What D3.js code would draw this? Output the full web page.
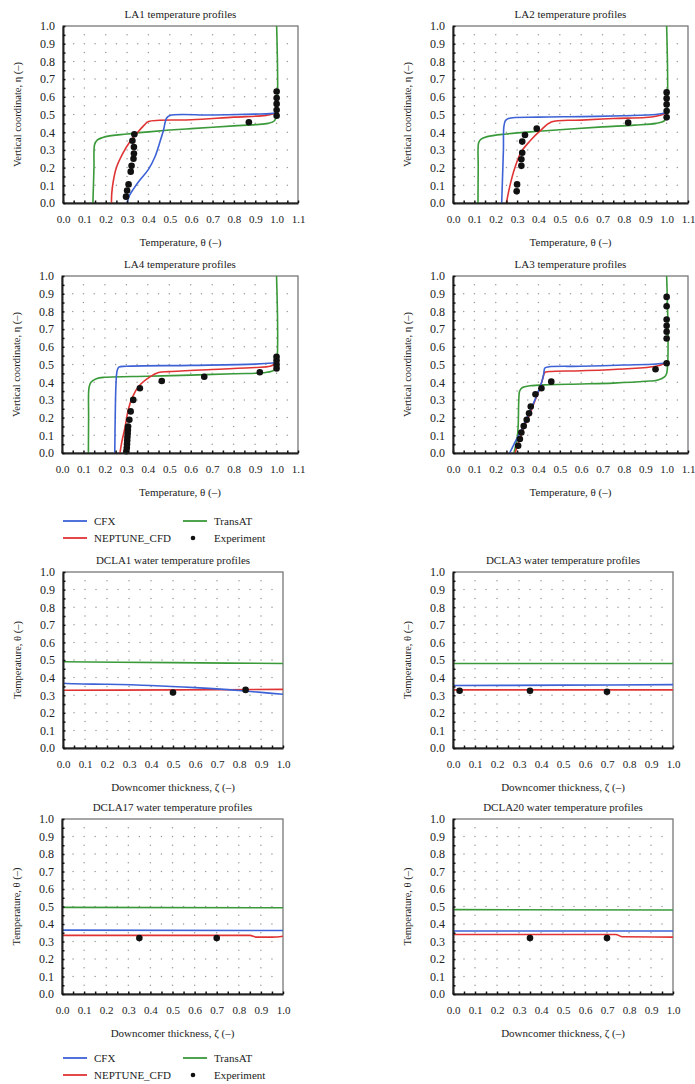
<!DOCTYPE html>
<html><head><meta charset="utf-8">
<script src="https://cdn.jsdelivr.net/npm/d3@7"></script>
<style>
body{margin:0;background:#fff}
svg{display:block}
text{font-family:"Liberation Serif","DejaVu Serif",serif;fill:#222}
</style>
</head><body>
<svg id="c" width="695" height="1084"></svg>
<script>
// ---------- data ----------
const seriesNames = ["CFX", "NEPTUNE_CFD", "TransAT", "Experiment"];
const seriesColors = {CFX:"#3d62d6", NEPTUNE_CFD:"#e03434", TransAT:"#3a9a3a"};
const tempTicks = [0,0.1,0.2,0.3,0.4,0.5,0.6,0.7,0.8,0.9,1.0,1.1];
const unitTicks = [0,0.1,0.2,0.3,0.4,0.5,0.6,0.7,0.8,0.9,1.0];

// LA1  [theta, eta]
const la1_cfx = [[0.30,0],[0.31,0.04],[0.33,0.08],[0.36,0.13],[0.40,0.19],[0.43,0.26],[0.455,0.35],[0.47,0.41],[0.485,0.48],[0.50,0.495],[0.7,0.497],[0.9,0.502],[0.97,0.505],[1.0,0.51]];
const la1_nep = [[0.227,0],[0.228,0.05],[0.235,0.12],[0.25,0.2],[0.28,0.28],[0.31,0.34],[0.35,0.4],[0.38,0.44],[0.40,0.46],[0.6,0.47],[0.8,0.485],[0.95,0.495],[1.0,0.51]];
const la1_tra = [[0.14,0],[0.145,0.2],[0.148,0.33],[0.16,0.355],[0.2,0.375],[0.3,0.39],[0.4,0.402],[0.5,0.412],[0.6,0.42],[0.7,0.428],[0.8,0.436],[0.9,0.443],[0.96,0.45],[0.99,0.465],[1.0,0.5],[1.0,1.0]];
const la1_exp = [[0.295,0.036],[0.30,0.07],[0.307,0.105],[0.317,0.177],[0.321,0.21],[0.33,0.25],[0.332,0.28],[0.332,0.316],[0.325,0.352],[0.334,0.388],[0.87,0.456],[1.0,0.493],[1.0,0.525],[1.0,0.56],[1.0,0.593],[1.0,0.63]];

// LA2
const la2_cfx = [[0.228,0],[0.232,0.15],[0.236,0.3],[0.238,0.43],[0.245,0.465],[0.26,0.478],[0.4,0.485],[0.6,0.488],[0.8,0.493],[0.95,0.5],[1.0,0.51]];
const la2_nep = [[0.25,0],[0.265,0.09],[0.29,0.2],[0.32,0.29],[0.36,0.35],[0.41,0.41],[0.46,0.458],[0.6,0.468],[0.75,0.477],[0.9,0.483],[0.95,0.49],[1.0,0.507]];
const la2_tra = [[0.117,0],[0.118,0.2],[0.12,0.34],[0.13,0.36],[0.16,0.375],[0.25,0.39],[0.4,0.405],[0.55,0.418],[0.7,0.43],[0.85,0.44],[0.95,0.45],[0.99,0.465],[1.0,0.5],[1.0,1.0]];
const la2_exp = [[0.298,0.066],[0.30,0.105],[0.32,0.21],[0.32,0.247],[0.324,0.284],[0.324,0.347],[0.337,0.384],[0.392,0.42],[0.82,0.454],[1.0,0.484],[1.0,0.52],[1.0,0.557],[1.0,0.591],[1.0,0.625]];

// LA4
const la4_cfx = [[0.246,0],[0.248,0.2],[0.252,0.4],[0.257,0.465],[0.265,0.485],[0.3,0.49],[0.6,0.495],[0.9,0.502],[1.0,0.51]];
const la4_nep = [[0.27,0],[0.28,0.07],[0.293,0.14],[0.31,0.25],[0.33,0.32],[0.36,0.38],[0.41,0.43],[0.45,0.455],[0.5,0.46],[0.7,0.472],[0.9,0.483],[0.97,0.49],[1.0,0.507]];
const la4_tra = [[0.123,0],[0.124,0.2],[0.126,0.37],[0.135,0.4],[0.16,0.42],[0.2,0.428],[0.4,0.434],[0.6,0.44],[0.8,0.448],[0.95,0.455],[0.99,0.47],[1.0,0.5],[1.0,1.0]];
const la4_exp = [[0.30,0.01],[0.302,0.03],[0.303,0.05],[0.304,0.07],[0.305,0.09],[0.306,0.11],[0.307,0.13],[0.308,0.15],[0.314,0.188],[0.32,0.235],[0.332,0.30],[0.363,0.366],[0.465,0.407],[0.663,0.431],[0.922,0.456],[1.0,0.478],[1.0,0.5],[1.0,0.523],[1.0,0.544]];

// LA3
const la3_cfx = [[0.265,0],[0.29,0.06],[0.32,0.13],[0.35,0.21],[0.38,0.29],[0.40,0.35],[0.415,0.4],[0.425,0.45],[0.43,0.48],[0.45,0.487],[0.6,0.49],[0.8,0.497],[0.95,0.503],[1.0,0.51]];
const la3_nep = [[0.29,0],[0.31,0.07],[0.33,0.14],[0.36,0.22],[0.385,0.3],[0.405,0.36],[0.42,0.42],[0.43,0.455],[0.45,0.46],[0.6,0.465],[0.8,0.475],[0.95,0.49],[1.0,0.51]];
const la3_tra = [[0.285,0],[0.30,0.08],[0.305,0.15],[0.308,0.3],[0.312,0.35],[0.325,0.37],[0.36,0.38],[0.45,0.386],[0.6,0.39],[0.75,0.395],[0.9,0.405],[0.96,0.413],[0.99,0.43],[1.0,0.45],[1.0,1.0]];
const la3_exp = [[0.305,0.041],[0.313,0.079],[0.32,0.116],[0.331,0.152],[0.345,0.188],[0.356,0.225],[0.364,0.263],[0.386,0.332],[0.414,0.366],[0.46,0.403],[0.948,0.473],[1.0,0.507],[1.0,0.647],[1.0,0.685],[1.0,0.719],[1.0,0.754],[1.0,0.829],[1.0,0.882]];

// DCLA  [zeta, theta]
const dc1_cfx = [[0,0.368],[0.05,0.365],[0.2,0.362],[0.4,0.355],[0.6,0.343],[0.8,0.327],[0.9,0.316],[1.0,0.305]];
const dc1_nep = [[0,0.328],[0.5,0.33],[1.0,0.333]];
const dc1_tra = [[0,0.49],[0.5,0.485],[1.0,0.48]];
const dc1_exp = [[0.5,0.315],[0.83,0.33]];

const dc3_cfx = [[0,0.355],[0.5,0.357],[1.0,0.36]];
const dc3_nep = [[0,0.33],[1.0,0.33]];
const dc3_tra = [[0,0.48],[1.0,0.48]];
const dc3_exp = [[0.03,0.325],[0.35,0.325],[0.7,0.32]];

const dc17_cfx = [[0,0.365],[1.0,0.363]];
const dc17_nep = [[0,0.335],[0.85,0.335],[0.88,0.325],[0.95,0.325],[1.0,0.33]];
const dc17_tra = [[0,0.495],[1.0,0.493]];
const dc17_exp = [[0.35,0.32],[0.7,0.32]];

const dc20_cfx = [[0,0.36],[1.0,0.36]];
const dc20_nep = [[0,0.34],[0.74,0.34],[0.77,0.327],[1.0,0.325]];
const dc20_tra = [[0,0.482],[1.0,0.48]];
const dc20_exp = [[0.35,0.32],[0.7,0.32]];

// ---------- layout ----------
const svg = d3.select("#c");
const LAx = "Temperature, \u03b8 (\u2013)", LAy = "Vertical coordinate, \u03b7 (\u2013)";
const DCx = "Downcomer thickness, \u03b6 (\u2013)", DCy = "Temperature, \u03b8 (\u2013)";

const panels = [
  {title:"LA1 temperature profiles", L:63, R:298, T:26, B:203, ticks:tempTicks, xt:LAx, yt:LAy, d:[la1_cfx,la1_nep,la1_tra,la1_exp]},
  {title:"LA2 temperature profiles", L:453, R:688, T:26, B:203, ticks:tempTicks, xt:LAx, yt:LAy, d:[la2_cfx,la2_nep,la2_tra,la2_exp]},
  {title:"LA4 temperature profiles", L:62, R:298, T:276, B:453, ticks:tempTicks, xt:LAx, yt:LAy, d:[la4_cfx,la4_nep,la4_tra,la4_exp]},
  {title:"LA3 temperature profiles", L:453, R:688, T:276, B:453, ticks:tempTicks, xt:LAx, yt:LAy, d:[la3_cfx,la3_nep,la3_tra,la3_exp]},
  {title:"DCLA1 water temperature profiles", L:63, R:283, T:572, B:748, ticks:unitTicks, xt:DCx, yt:DCy, d:[dc1_cfx,dc1_nep,dc1_tra,dc1_exp]},
  {title:"DCLA3 water temperature profiles", L:453, R:673, T:572, B:748, ticks:unitTicks, xt:DCx, yt:DCy, d:[dc3_cfx,dc3_nep,dc3_tra,dc3_exp]},
  {title:"DCLA17 water temperature profiles", L:62, R:283, T:819, B:994, ticks:unitTicks, xt:DCx, yt:DCy, d:[dc17_cfx,dc17_nep,dc17_tra,dc17_exp]},
  {title:"DCLA20 water temperature profiles", L:453, R:673, T:819, B:994, ticks:unitTicks, xt:DCx, yt:DCy, d:[dc20_cfx,dc20_nep,dc20_tra,dc20_exp]}
];

const fmt = d3.format(".1f");

panels.forEach((p, i) => {
  const xmax = p.ticks[p.ticks.length-1];
  const x = d3.scaleLinear().domain([0, xmax]).range([p.L, p.R]);
  const y = d3.scaleLinear().domain([0, 1]).range([p.B, p.T]);
  const g = svg.append("g");
  const cid = "clip" + i;
  g.append("clipPath").attr("id", cid).append("rect")
    .attr("x", p.L).attr("y", p.T - 1).attr("width", p.R - p.L).attr("height", p.B - p.T + 1);

  // dotted grid
  const dots = [];
  const xs = d3.range(0, Math.round(xmax/0.05) + 1).map(k => k*0.05);
  const ys = d3.range(0, 21).map(k => k*0.05);
  unitTicks.slice(1, 10).forEach(yy => xs.forEach(xx => { if (xx > 0.01 && xx < xmax - 0.01) dots.push([xx, yy]); }));
  p.ticks.slice(1, -1).forEach(xx => ys.forEach(yy => { if (yy > 0.01 && yy < 0.99 && Math.abs(yy*10 - Math.round(yy*10)) > 0.1) dots.push([xx, yy]); }));
  g.append("g").selectAll("circle").data(dots).join("circle")
    .attr("cx", d => x(d[0])).attr("cy", d => y(d[1])).attr("r", 0.75).attr("fill", "#9a9a9a");

  // frame
  g.append("rect").attr("x", p.L).attr("y", p.T).attr("width", p.R - p.L).attr("height", p.B - p.T)
    .attr("fill", "none").attr("stroke", "#777").attr("stroke-width", 1.3);

  // lines
  const curve = i < 4 ? d3.curveCatmullRom.alpha(0.5) : d3.curveMonotoneX;
  const line = d3.line().x(d => x(d[0])).y(d => y(d[1])).curve(curve);
  const cols = [seriesColors.CFX, seriesColors.NEPTUNE_CFD, seriesColors.TransAT];
  const lg = g.append("g").attr("clip-path", `url(#${cid})`);
  [2, 1, 0].forEach(k => {
    lg.append("path").datum(p.d[k]).attr("d", line).attr("fill", "none")
      .attr("stroke", cols[k]).attr("stroke-width", 1.6);
  });
  g.append("g").selectAll("circle").data(p.d[3]).join("circle")
    .attr("cx", d => x(d[0])).attr("cy", d => y(d[1])).attr("r", 3.3).attr("fill", "#111");

  // axes
  const minorX = d3.range(0, Math.round(xmax/0.05) + 1).map(k => k*0.05);
  const minorY = d3.range(0, 21).map(k => k*0.05);
  const ax = g.append("g").attr("transform", `translate(0,${p.B})`)
    .call(d3.axisBottom(x).tickValues(minorX).tickSizeInner(-2.5).tickSizeOuter(0).tickFormat(""));
  ax.selectAll("line").attr("stroke", "#111").attr("stroke-width", 1.5);
  ax.select(".domain").attr("stroke", "#222").attr("stroke-width", 2);
  const axl = g.append("g").attr("transform", `translate(0,${p.B})`)
    .call(d3.axisBottom(x).tickValues(p.ticks).tickSize(0).tickPadding(12).tickFormat(fmt));
  axl.select(".domain").remove();
  axl.selectAll("text").attr("font-size", 11).attr("fill", "#222")
    .attr("font-family", "'Liberation Serif', serif");

  const ay = g.append("g").attr("transform", `translate(${p.L},0)`)
    .call(d3.axisLeft(y).tickValues(minorY).tickSizeInner(-2.5).tickSizeOuter(0).tickFormat(""));
  ay.selectAll("line").attr("stroke", "#111").attr("stroke-width", 1.5);
  ay.select(".domain").attr("stroke", "#222").attr("stroke-width", 2);
  const ayl = g.append("g").attr("transform", `translate(${p.L},0)`)
    .call(d3.axisLeft(y).tickValues(unitTicks).tickSize(0).tickPadding(8).tickFormat(fmt));
  ayl.select(".domain").remove();
  ayl.selectAll("text").attr("font-size", 12).attr("fill", "#222")
    .attr("font-family", "'Liberation Serif', serif");

  // titles
  g.append("text").attr("x", (p.L + p.R)/2).attr("y", p.T - 8).attr("text-anchor", "middle")
    .attr("font-size", 11).text(p.title);
  g.append("text").attr("x", (p.L + p.R)/2).attr("y", p.B + 43).attr("text-anchor", "middle")
    .attr("font-size", 11).text(p.xt);
  g.append("text").attr("transform", `translate(${p.L - 42},${(p.T + p.B)/2}) rotate(-90)`)
    .attr("text-anchor", "middle").attr("font-size", 10.5).text(p.yt);
});

// legends
function legend(y0) {
  const lg = svg.append("g");
  const items = [
    {n:"CFX", c:seriesColors.CFX, x:63, y:y0},
    {n:"TransAT", c:seriesColors.TransAT, x:183, y:y0},
    {n:"NEPTUNE_CFD", c:seriesColors.NEPTUNE_CFD, x:63, y:y0 + 17},
    {n:"Experiment", c:null, x:183, y:y0 + 17}
  ];
  items.forEach(it => {
    if (it.c) {
      lg.append("line").attr("x1", it.x).attr("x2", it.x + 24).attr("y1", it.y).attr("y2", it.y)
        .attr("stroke", it.c).attr("stroke-width", 1.8);
    } else {
      lg.append("circle").attr("cx", it.x + 10).attr("cy", it.y).attr("r", 2.3).attr("fill", "#111");
    }
    lg.append("text").attr("x", it.x + 31).attr("y", it.y + 4).attr("font-size", 11).text(it.n);
  });
}
legend(521);
legend(1058);
</script>
</body></html>
